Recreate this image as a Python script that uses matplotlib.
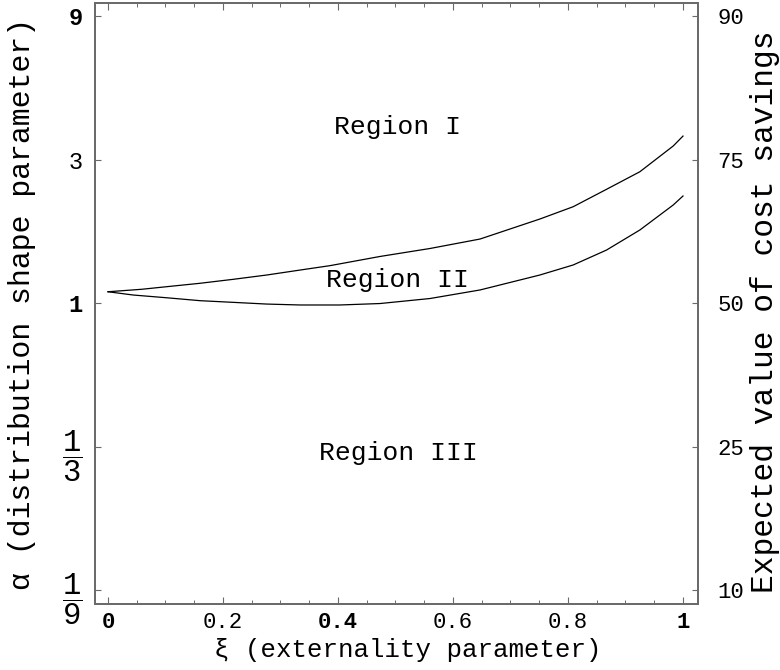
import numpy as np
import matplotlib
matplotlib.use("Agg")
import matplotlib.pyplot as plt
from matplotlib.ticker import FixedLocator, MultipleLocator, NullLocator

plt.rcParams['font.family'] = ['Liberation Mono', 'DejaVu Sans Mono', 'DejaVu Sans']
plt.rcParams['mathtext.fontset'] = 'custom'
plt.rcParams['mathtext.rm'] = 'Liberation Mono'

# boundary curves
xi_up = [0.0, 0.059, 0.102, 0.16, 0.218, 0.276, 0.334, 0.386, 0.473, 0.56, 0.647,
         0.751, 0.809, 0.867, 0.925, 0.983, 1.0]
alpha_upper = [1.09, 1.111, 1.133, 1.163, 1.199, 1.239, 1.287, 1.331, 1.428, 1.518, 1.632,
               1.902, 2.09, 2.388, 2.732, 3.327, 3.59]
xi_low = [0.0, 0.044, 0.102, 0.16, 0.218, 0.276, 0.334, 0.403, 0.473, 0.56, 0.647,
          0.751, 0.809, 0.867, 0.925, 0.983, 1.0]
alpha_lower = [1.09, 1.063, 1.041, 1.018, 1.005, 0.992, 0.985, 0.985, 0.996, 1.035, 1.105,
               1.239, 1.338, 1.5, 1.749, 2.118, 2.269]

left_ticks = [1/9, 1/3, 1, 3, 9]
left_labels = [r'$\mathrm{\dfrac{1}{9}}$', r'$\mathrm{\dfrac{1}{3}}$', '1', '3', '9']
right_labels = ['10', '25', '50', '75', '90']
x_ticks = [0, 0.2, 0.4, 0.6, 0.8, 1]
x_labels = ['0', '0.2', '0.4', '0.6', '0.8', '1']

regions = [("Region I", 0.503, 3.85), ("Region II", 0.503, 1.19), ("Region III", 0.505, 0.317)]

frame_col = '#6a6a6a'

fig = plt.figure(figsize=(7.8, 6.7), dpi=100)
ax = fig.add_axes([0.1218, 0.0985, 0.773, 0.897])

ax.plot(xi_up, alpha_upper, color='black', lw=0.9)
ax.plot(xi_low, alpha_lower, color='black', lw=0.9)

ax.set_yscale('log')
ax.set_xlim(-0.0226, 1.026)
ax.set_ylim((1/9) * 3 ** (-14/143.5), 9 * 3 ** (13/143.5))

ax.xaxis.set_major_locator(FixedLocator(x_ticks))
ax.xaxis.set_minor_locator(MultipleLocator(0.05))
ax.set_xticklabels(x_labels)
ax.yaxis.set_major_locator(FixedLocator(left_ticks))
ax.yaxis.set_minor_locator(NullLocator())
ax.set_yticklabels(left_labels)

ax.tick_params(axis='x', which='major', direction='in', length=5, width=0.8, color=frame_col,
               top=True, labelsize=16, pad=6)
ax.tick_params(axis='x', which='minor', direction='in', length=3, width=0.7, color=frame_col, top=True)
ax.tick_params(axis='y', which='major', direction='in', length=4, width=0.8, color=frame_col,
               labelsize=17, pad=9)

for lbl in ax.get_xticklabels():
    if lbl.get_text() in ('0', '0.4', '1'):
        lbl.set_fontweight('bold')
for lbl in ax.get_yticklabels():
    if lbl.get_text() in ('1', '9'):
        lbl.set_fontweight('bold')
    if 'frac' in lbl.get_text():
        lbl.set_fontsize(22)

for sp in ax.spines.values():
    sp.set_color(frame_col)
    sp.set_linewidth(1.3)

ax2 = ax.twinx()
ax2.set_yscale('log')
ax2.set_ylim(ax.get_ylim())
ax2.yaxis.set_major_locator(FixedLocator(left_ticks))
ax2.yaxis.set_minor_locator(NullLocator())
ax2.set_yticklabels(right_labels)
ax2.tick_params(axis='y', which='major', direction='in', length=4, width=0.8, color=frame_col,
                labelsize=16, pad=14)
for sp in ax2.spines.values():
    sp.set_color(frame_col)
    sp.set_linewidth(1.3)

for name, x, y in regions:
    ax.text(x, y, name, fontsize=19, ha='center', va='center')

fig.text(408/780, 1 - 650/670, 'ξ (externality parameter)', fontsize=18.5, ha='center', va='center')
fig.text(22/780, 1 - 304/670, 'α (distribution shape parameter)', fontsize=21.5,
         rotation=90, ha='center', va='center')
fig.text(765/780, 1 - 312/670, 'Expected value of cost savings', fontsize=22.5,
         rotation=90, ha='center', va='center')

fig.savefig('out.png', dpi=100)
